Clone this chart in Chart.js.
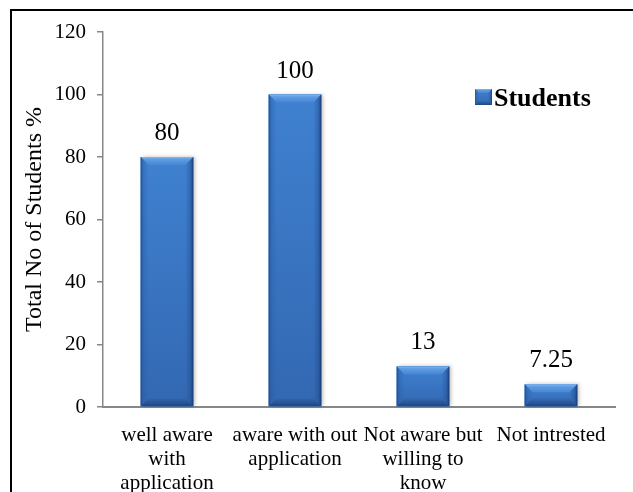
<!DOCTYPE html>
<html>
<head>
<meta charset="utf-8">
<script src="https://cdn.jsdelivr.net/npm/chart.js@4.4.0/dist/chart.umd.min.js"></script>
<style>
  html, body { margin: 0; padding: 0; background: #fff; }
</style>
</head>
<body>
<canvas id="students" width="633" height="492"></canvas>
<script>
// data
var categories = [
    ['well aware', 'with', 'application'],
    ['aware with out', 'application'],
    ['Not aware but', 'willing to', 'know'],
    ['Not intrested']
];
var students = [80, 100, 13, 7.25];
var yMin = 0;
var yMax = 120;
var yStep = 20;

var serif = "'Liberation Serif', 'Times New Roman', serif";
var axisGrey = '#878787';

// office style bevelled bar
function bevelBox(ctx, l, t, r, b, s) {
    s = Math.min(s, (b - t) / 2, (r - l) / 2);
    var face = ctx.createLinearGradient(0, t, 0, b);
    face.addColorStop(0, '#3f81d0');
    face.addColorStop(1, '#3368b2');
    ctx.fillStyle = face;
    ctx.fillRect(l, t, r - l, b - t);

    // top bevel, light
    var g = ctx.createLinearGradient(0, t, 0, t + s);
    g.addColorStop(0, '#86b8f0');
    g.addColorStop(0.3, '#5f9be2');
    g.addColorStop(1, '#4587d4');
    ctx.fillStyle = g;
    ctx.beginPath();
    ctx.moveTo(l, t); ctx.lineTo(r, t); ctx.lineTo(r - s, t + s); ctx.lineTo(l + s, t + s);
    ctx.closePath(); ctx.fill();

    // left edge
    var gl = ctx.createLinearGradient(l, 0, l + s, 0);
    gl.addColorStop(0, 'rgba(30,70,130,0.85)');
    gl.addColorStop(0.35, 'rgba(40,90,160,0.35)');
    gl.addColorStop(1, 'rgba(40,90,160,0)');
    ctx.fillStyle = gl;
    ctx.beginPath();
    ctx.moveTo(l, t); ctx.lineTo(l + s, t + s); ctx.lineTo(l + s, b - s); ctx.lineTo(l, b);
    ctx.closePath(); ctx.fill();

    // right edge
    var gr = ctx.createLinearGradient(r, 0, r - s, 0);
    gr.addColorStop(0, 'rgba(20,55,105,0.9)');
    gr.addColorStop(0.35, 'rgba(30,70,130,0.4)');
    gr.addColorStop(1, 'rgba(30,70,130,0)');
    ctx.fillStyle = gr;
    ctx.beginPath();
    ctx.moveTo(r, t); ctx.lineTo(r, b); ctx.lineTo(r - s, b - s); ctx.lineTo(r - s, t + s);
    ctx.closePath(); ctx.fill();

    // bottom edge
    var gb = ctx.createLinearGradient(0, b, 0, b - s);
    gb.addColorStop(0, 'rgba(25,60,115,0.8)');
    gb.addColorStop(1, 'rgba(30,70,130,0.1)');
    ctx.fillStyle = gb;
    ctx.beginPath();
    ctx.moveTo(l, b); ctx.lineTo(r, b); ctx.lineTo(r - s, b - s); ctx.lineTo(l + s, b - s);
    ctx.closePath(); ctx.fill();
}

var bevelPlugin = {
    id: 'bevel',
    beforeDraw: function (chart) {
        var ctx = chart.ctx;
        ctx.save();
        ctx.strokeStyle = '#000';
        ctx.lineWidth = 2;
        ctx.beginPath();
        ctx.moveTo(11, 492); ctx.lineTo(11, 10); ctx.lineTo(633, 10);
        ctx.stroke();
        ctx.restore();
    },
    afterDatasetsDraw: function (chart) {
        var ctx = chart.ctx;
        var meta = chart.getDatasetMeta(0);
        var values = chart.data.datasets[0].data;
        meta.data.forEach(function (bar, i) {
            var half = bar.width / 2;
            var l = bar.x - half, r = bar.x + half, t = bar.y, b = bar.base;
            ctx.save();
            ctx.shadowColor = 'rgba(0,0,0,0.25)';
            ctx.shadowBlur = 4;
            ctx.shadowOffsetX = 2;
            ctx.shadowOffsetY = 0;
            ctx.fillStyle = '#3b7bca';
            ctx.fillRect(l, t, r - l, b - t);
            ctx.restore();
            ctx.save();
            bevelBox(ctx, l, t, r, b, 8);
            ctx.restore();

            ctx.save();
            ctx.fillStyle = '#000';
            ctx.font = '25px ' + serif;
            ctx.textAlign = 'center';
            ctx.textBaseline = 'alphabetic';
            ctx.fillText(String(values[i]), bar.x, t - 17);
            ctx.restore();
        });
    },
    afterDraw: function (chart) {
        // legend sits inside the plot, top right
        var ctx = chart.ctx;
        ctx.save();
        bevelBox(ctx, 475, 89, 492, 105, 4);
        ctx.fillStyle = '#000';
        ctx.font = 'bold 26px ' + serif;
        ctx.textAlign = 'left';
        ctx.textBaseline = 'alphabetic';
        ctx.fillText(chart.data.datasets[0].label, 494, 106);
        ctx.restore();
    }
};

var config = {
    type: 'bar',
    data: {
        labels: categories,
        datasets: [
            {
                label: 'Students',
                data: students,
                backgroundColor: '#3b7bca',
                borderWidth: 0,
                barPercentage: 0.41,
                categoryPercentage: 1.0,
            },
        ],
    },
    options: {
        responsive: false,
        animation: false,
        layout: {
            padding: { top: 32, left: 12, right: 18, bottom: 0 },
        },
        plugins: {
            legend: { display: false },
            tooltip: { enabled: false },
        },
        scales: {
            x: {
                grid: { display: true, drawOnChartArea: false, drawTicks: false },
                border: { display: true, color: axisGrey, width: 2 },
                ticks: {
                    color: '#000',
                    padding: 16,
                    maxRotation: 0,
                    autoSkip: false,
                    font: { family: serif, size: 21, lineHeight: 1.15 },
                },
                afterFit: function (scale) {
                    scale.height = 85;
                },
            },
            y: {
                min: yMin,
                max: yMax,
                grid: { display: true, drawOnChartArea: false, drawTicks: true, tickLength: 6, color: axisGrey, lineWidth: 1.5 },
                border: { display: true, color: axisGrey, width: 1.5 },
                ticks: {
                    stepSize: yStep,
                    color: '#000',
                    padding: 11,
                    font: { family: serif, size: 21 },
                },
                title: {
                    display: true,
                    text: 'Total No of Students %',
                    color: '#000',
                    padding: { top: 8, bottom: 0 },
                    font: { family: serif, size: 24 },
                },
                afterFit: function (scale) {
                    scale.width = 91;
                },
            },
        },
    },
    plugins: [bevelPlugin],
};

var myChart = new Chart(document.getElementById('students'), config);
</script>
</body>
</html>
